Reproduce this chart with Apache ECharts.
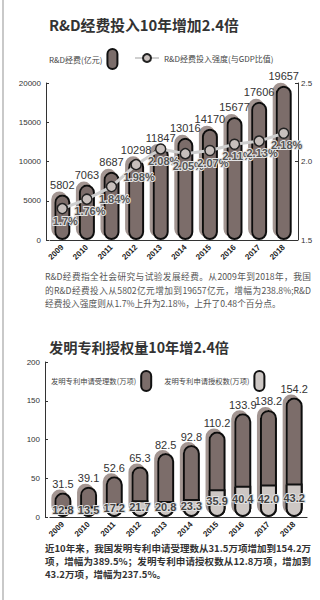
<!DOCTYPE html>
<html>
<head>
<meta charset="utf-8">
<script src="https://cdn.jsdelivr.net/npm/echarts@6/dist/echarts.min.js"></script>
<style>
  html, body { margin: 0; padding: 0; background: #fff; }
  #wrap { position: relative; width: 320px; height: 600px; overflow: hidden; background: #fff; }
  #edge { position: absolute; left: 2px; top: 0; width: 2px; height: 600px; background: #c9c9c9; }
  #chart { position: absolute; left: 0; top: 0; width: 320px; height: 600px; }
  .para { position: absolute; left: 45px; width: 266px; font-family: "Noto Sans CJK SC", sans-serif; }
  .para div { white-space: nowrap; text-align: justify; text-align-last: justify; }
  .para div.last { text-align-last: left; }
  #p1 { top: 270px; font-size: 8.7px; line-height: 13.5px; color: #555; }
  #p2 { top: 542px; font-size: 9.5px; line-height: 13px; color: #333; font-weight: bold; }
</style>
</head>
<body>
<div id="wrap">
  <div id="edge"></div>
  <div id="chart"></div>
  <div class="para" id="p1">
    <div>R&amp;D经费指全社会研究与试验发展经费。从2009年到2018年，我国</div>
    <div>的R&amp;D经费投入从5802亿元增加到19657亿元，增幅为238.8%;R&amp;D</div>
    <div class="last">经费投入强度则从1.7%上升为2.18%，上升了0.48个百分点。</div>
  </div>
  <div class="para" id="p2">
    <div>近10年来，我国发明专利申请受理数从31.5万项增加到154.2万</div>
    <div>项，增幅为389.5%；发明专利申请授权数从12.8万项，增加到</div>
    <div class="last">43.2万项，增幅为237.5%。</div>
  </div>
</div>
<script>
  // 数据
  const years = ['2009', '2010', '2011', '2012', '2013', '2014', '2015', '2016', '2017', '2018'];
  const rdSpend = [5802, 7063, 8687, 10298, 11847, 13016, 14170, 15677, 17606, 19657];
  const rdIntensity = [1.7, 1.76, 1.84, 1.98, 2.08, 2.05, 2.07, 2.11, 2.13, 2.18];
  const patentApplied = [31.5, 39.1, 52.6, 65.3, 82.5, 92.8, 110.2, 133.9, 138.2, 154.2];
  const patentGranted = [12.8, 13.5, 17.2, 21.7, 20.8, 23.3, 35.9, 40.4, 42.0, 43.2];

  const capsule = 'path://M0,5 A5,5 0 0 1 10,5 L10,15 A5,5 0 0 1 0,15 Z';
  const numFont = '"Liberation Sans", Arial, sans-serif';
  const cjkFont = '"Noto Sans CJK SC", sans-serif';
  const dark = '#7b6d6a';
  const light = '#cdc7c4';

  let myChart = echarts.init(document.getElementById('chart'), null, {renderer: 'svg'});

  let axisCommon = {
    axisLine: {show: true, lineStyle: {color: '#333', width: 1}},
    axisTick: {show: true, inside: true, length: 3, lineStyle: {color: '#333'}},
    axisLabel: {color: '#333', fontSize: 8, fontFamily: numFont, margin: 5, formatter: v => String(v)},
    splitLine: {show: false}
  };

  myChart.setOption({
    animation: false,
    title: [
      {
        text: 'R&D经费投入10年增加2.4倍',
        left: 44, top: 12,
        textStyle: {fontSize: 14.8, fontWeight: 'bold', color: '#333', fontFamily: cjkFont}
      },
      {
        text: '发明专利授权量10年增2.4倍',
        left: 44, top: 335,
        textStyle: {fontSize: 14.2, fontWeight: 'bold', color: '#333', fontFamily: cjkFont}
      }
    ],
    legend: [
      {
        left: 44, top: 43,
        align: 'right',
        itemWidth: 10, itemHeight: 20,
        icon: capsule,
        textStyle: {fontSize: 8, color: '#444', fontFamily: cjkFont},
        data: ['R&D经费(亿元)']
      },
      {
        left: 129, top: 48,
        itemWidth: 24, itemHeight: 10, itemGap: 6,
        textStyle: {fontSize: 8, color: '#444', fontFamily: cjkFont},
        data: ['R&D经费投入强度(与GDP比值)']
      },
      {
        left: 46, top: 365,
        align: 'right',
        itemWidth: 10, itemHeight: 22, itemGap: 12,
        icon: capsule,
        textStyle: {fontSize: 7.3, color: '#444', fontFamily: cjkFont},
        data: ['发明专利申请受理数(万项)', '发明专利申请授权数(万项)']
      }
    ],
    grid: [
      {left: 50, right: 24, top: 83, bottom: 360},
      {left: 50, right: 13, top: 362, bottom: 83}
    ],
    xAxis: [
      {
        type: 'category', gridIndex: 0, data: years,
        axisLine: {lineStyle: {color: '#333', width: 1.2}},
        axisTick: {show: false},
        axisLabel: {rotate: 45, fontSize: 8, fontWeight: 'bold', color: '#222', fontFamily: numFont, margin: 6, interval: 0}
      },
      {
        type: 'category', gridIndex: 1, data: years,
        axisLine: {lineStyle: {color: '#333', width: 1.2}},
        axisTick: {show: false},
        axisLabel: {rotate: 45, fontSize: 8, fontWeight: 'bold', color: '#222', fontFamily: numFont, margin: 6, interval: 0}
      }
    ],
    yAxis: [
      Object.assign({type: 'value', gridIndex: 0, min: 0, max: 20000, interval: 5000, offset: 4}, axisCommon),
      Object.assign({}, axisCommon, {
        type: 'value', gridIndex: 0, position: 'right', min: 1.5, max: 2.5, interval: 0.5, offset: 2,
        axisLabel: {color: '#333', fontSize: 8, fontFamily: numFont, margin: 3, formatter: v => v.toFixed(1)}
      }),
      Object.assign({type: 'value', gridIndex: 1, min: 0, max: 200, interval: 50, offset: 5}, axisCommon)
    ],
    series: [
      {
        name: 'R&D经费(亿元)',
        type: 'bar',
        xAxisIndex: 0, yAxisIndex: 0,
        data: rdSpend,
        barWidth: 16,
        itemStyle: {
          color: dark,
          borderColor: '#111',
          borderWidth: 2,
          borderRadius: 8,
          shadowColor: '#a39591',
          shadowOffsetX: -3,
          shadowOffsetY: -3,
          shadowBlur: 0
        },
        label: {show: true, position: 'top', distance: 4, fontSize: 11, color: '#333', fontFamily: numFont}
      },
      {
        name: 'R&D经费投入强度(与GDP比值)',
        type: 'line',
        xAxisIndex: 0, yAxisIndex: 1,
        data: rdIntensity,
        symbol: 'circle',
        symbolSize: 10,
        lineStyle: {color: '#cfcfcf', width: 3},
        itemStyle: {color: '#c7bfbc', borderColor: '#222', borderWidth: 1.5},
        label: {
          show: true, position: 'bottom', distance: 1, offset: [3, 0],
          formatter: p => p.value + '%',
          fontSize: 11, fontWeight: 'bold', color: '#555', fontFamily: numFont,
          textBorderColor: '#e4e4e4', textBorderWidth: 2
        }
      },
      {
        name: '发明专利申请受理数(万项)',
        type: 'bar',
        xAxisIndex: 1, yAxisIndex: 2,
        data: patentApplied,
        barWidth: 17,
        barGap: '-100%',
        itemStyle: {
          color: dark,
          borderColor: '#111',
          borderWidth: 2,
          borderRadius: 8.5,
          shadowColor: '#a39591',
          shadowOffsetX: -3,
          shadowOffsetY: -3,
          shadowBlur: 0
        },
        label: {show: true, position: 'top', distance: 3, fontSize: 11, color: '#333', fontFamily: numFont}
      },
      {
        name: '发明专利申请授权数(万项)',
        type: 'bar',
        xAxisIndex: 1, yAxisIndex: 2,
        data: patentGranted,
        barWidth: 17,
        barGap: '-100%',
        itemStyle: {
          color: light,
          borderColor: '#111',
          borderWidth: 2,
          borderRadius: [0, 0, 8.5, 8.5]
        },
        label: {
          show: true, position: 'inside', offset: [0, -2],
          formatter: p => p.value.toFixed(1),
          fontSize: 11, fontWeight: 'bold', color: '#444', fontFamily: numFont,
          textBorderColor: '#e0e0e0', textBorderWidth: 2
        }
      }
    ]
  });
</script>
</body>
</html>
